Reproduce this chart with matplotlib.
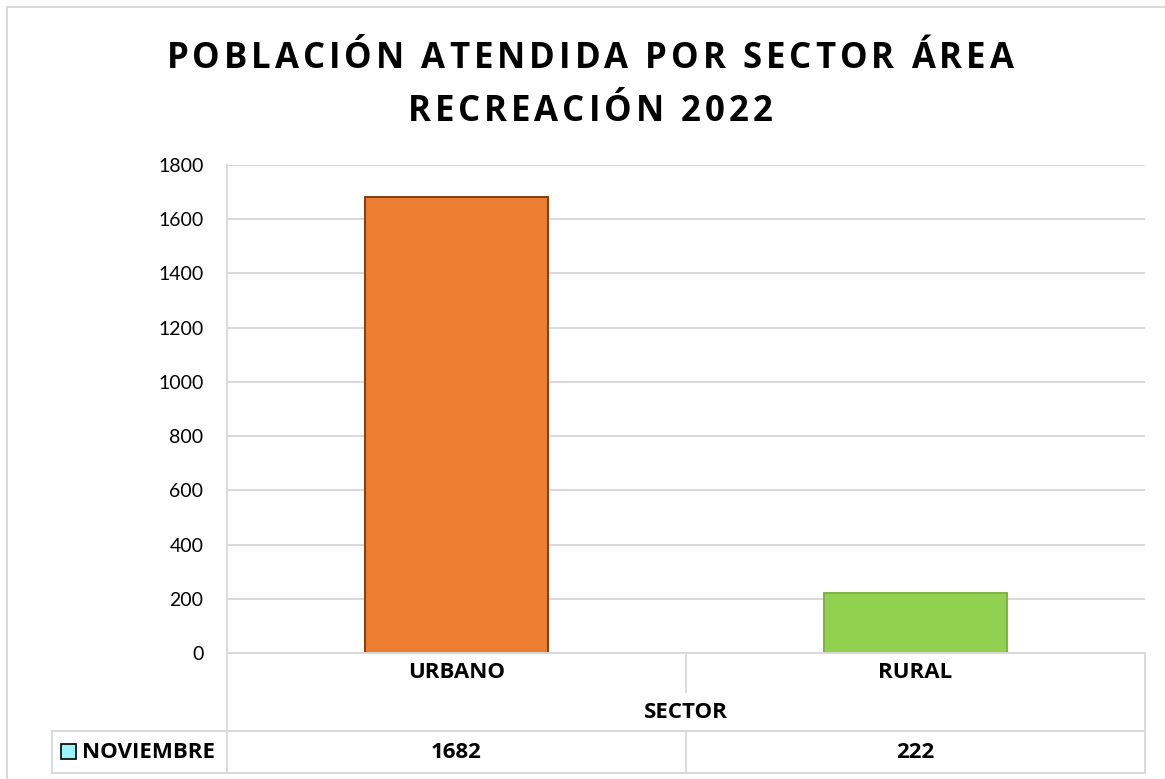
import matplotlib
matplotlib.use("Agg")
import matplotlib.pyplot as plt
from matplotlib.lines import Line2D
from matplotlib.patches import Rectangle
from matplotlib.font_manager import FontProperties

# data
sectors = ["URBANO", "RURAL"]
noviembre = [1682, 222]
bar_colors = ["#ED7D31", "#92D050"]
edge_colors = ["#843C0C", "#7CB342"]
series_name = "NOVIEMBRE"
axis_title = "SECTOR"
title_lines = ["POBLACIÓN ATENDIDA POR SECTOR ÁREA", "RECREACIÓN 2022"]
yticks = list(range(0, 1801, 200))

W, H = 1165, 779
GRID = "#D9D9D9"

fig = plt.figure(figsize=(W / 100, H / 100), dpi=100)
fig.patch.set_facecolor("white")

# plot area in pixels
x0, x1, y_top, y_zero = 227, 1145, 165, 653
ax = fig.add_axes([x0 / W, 1 - y_zero / H, (x1 - x0) / W, (y_zero - y_top) / H])

xs = list(range(len(sectors)))
for x, v, c, ec in zip(xs, noviembre, bar_colors, edge_colors):
    ax.bar(x, v, width=0.40, color=c, edgecolor=ec, linewidth=1.4, zorder=3)

ax.set_xlim(-0.5, len(sectors) - 0.5)
ax.set_ylim(0, 1800)
ax.set_yticks(yticks)
ax.set_xticks([])
ax.tick_params(axis="y", length=0, pad=17, labelsize=14, labelcolor="#000000")
for lab in ax.get_yticklabels():
    lab.set_fontfamily("Lato")
ax.yaxis.grid(True, color=GRID, linewidth=1.4)
ax.set_axisbelow(True)
for s in ["top", "right", "bottom"]:
    ax.spines[s].set_visible(False)
ax.spines["left"].set_color(GRID)
ax.spines["left"].set_linewidth(1.4)


def fx(px):
    return px / W


def fy(py):
    return 1 - py / H


def hline(xa, xb, y):
    fig.add_artist(Line2D([fx(xa), fx(xb)], [fy(y), fy(y)], color=GRID, lw=1.4))


def vline(x, ya, yb):
    fig.add_artist(Line2D([fx(x), fx(x)], [fy(ya), fy(yb)], color=GRID, lw=1.4))


# outer chart border
hline(7, W, 7)
vline(7, 7, H)

# data table
t_left, row_split, row_val, t_bot = 52, 692, 731, 773
mid = (x0 + x1) / 2
hline(x0, x1, y_zero)
hline(t_left, x1, row_val)
hline(t_left, x1, t_bot)
vline(t_left, row_val, t_bot)
vline(x0, y_zero, t_bot)
vline(x1, y_zero, t_bot)
vline(mid, y_zero, row_split)
vline(mid, row_val, t_bot)

bold = dict(fontfamily="Open Sans", fontweight="bold", fontsize=16, color="#000000")
xt = ax.get_xaxis_transform()
ax_h = y_zero - y_top
for x, name, v in zip(xs, sectors, noviembre):
    ax.text(x, -(673 - y_zero) / ax_h, name, transform=xt, ha="center", va="center", **bold)
    ax.text(x, -(753 - y_zero) / ax_h, str(v), transform=xt, ha="center", va="center", **bold)
fig.text(fx(mid), fy(712), axis_title, ha="center", va="center", **bold)

# legend key + series name
fig.add_artist(Rectangle((fx(61), fy(759)), 15 / W, 15 / H, facecolor="#99F5F8",
                         edgecolor="#000000", lw=1.2))
fig.text(fx(82), fy(752), series_name, ha="left", va="center", **bold)

# title, drawn char by char to get the wide letter spacing
renderer = fig.canvas.get_renderer()
tfont = FontProperties(family="Open Sans", weight="bold", size=25)
spacing = 4.0  # px between letters


def spaced_title(s, cx, base_y):
    widths = [renderer.get_text_width_height_descent(ch, tfont, ismath=False)[0] for ch in s]
    total = sum(widths) + spacing * (len(s) - 1)
    xpos = cx - total / 2
    for ch, w in zip(s, widths):
        fig.text(fx(xpos), fy(base_y), ch, fontproperties=tfont, color="#000000",
                 ha="left", va="baseline")
        xpos += w + spacing


spaced_title(title_lines[0], 590, 68)
spaced_title(title_lines[1], 590, 121)

fig.savefig("out.png", dpi=100, facecolor="white")
